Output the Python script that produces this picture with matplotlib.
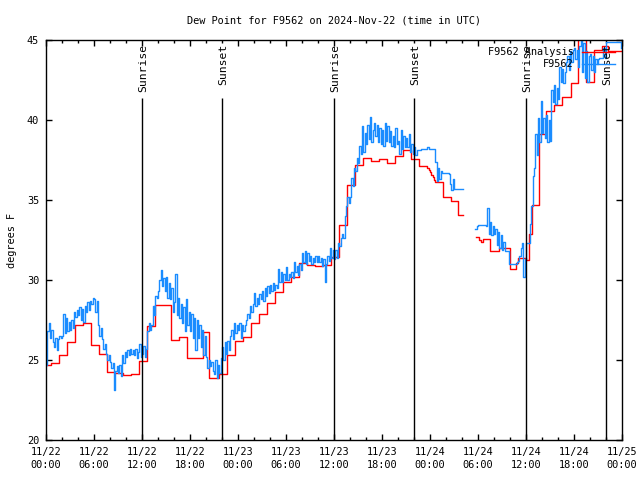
import numpy as np
import matplotlib
matplotlib.use('Agg')
import matplotlib.pyplot as plt
from matplotlib.ticker import MultipleLocator

# time axis is hours since 2024-11-22 00:00 UTC

# hourly analysis (drawn as steps)
analysis_hours = [0.0, 0.67, 1.67, 2.67, 3.67, 4.67, 5.67, 6.67, 7.67, 8.67,
                  9.67, 10.67, 11.67, 12.67, 13.67, 14.67, 15.67, 16.67, 17.67, 18.67,
                  19.67, 20.4, 21.67, 22.67, 23.67, 24.67, 25.67, 26.67, 27.67, 28.67,
                  29.67, 30.67, 31.67, 32.67, 33.67, 34.67, 35.67, 36.67, 37.67, 38.67,
                  39.67, 40.67, 41.67, 42.67, 43.67, 44.67, 45.67, 46.67, 47.67, 47.83,
                  48.0, 48.17, 48.33, 48.5, 48.63, 49.6, 50.6, 51.5, 52.08,
                  53.75, 54.16, 54.4, 54.6, 55.5, 56.67, 56.8, 58.0, 58.75, 59.04,
                  60.0, 60.4, 60.7, 61.6, 62.5, 63.5, 64.5, 65.6, 66.5, 67.5,
                  68.5, 69.5, 70.2, 71.9]
analysis_temp = [24.69, 24.79, 25.31, 26.13, 27.17, 27.29, 25.92, 25.35, 24.23, 24.21,
                 24.06, 24.10, 24.96, 27.12, 28.44, 28.44, 26.25, 26.42, 25.10, 25.10,
                 26.77, 23.85, 24.10, 25.31, 26.20, 26.42, 27.29, 27.86, 28.58, 29.27,
                 29.85, 30.17, 31.04, 30.94, 30.88, 30.94, 31.44, 33.42, 35.94, 37.19,
                 37.60, 37.46, 37.54, 37.29, 37.75, 38.12, 37.54, 37.12, 36.98, 36.85,
                 36.73, 36.58, 36.42, 36.23, 36.15, 35.17, 34.96, 34.06, np.nan,
                 32.67, 32.50, 32.35, 32.54, 31.83, 32.02, 31.98, 30.67, 31.04, 31.35,
                 31.25, 32.90, 34.69, 39.10, 40.56, 40.94, 41.46, 42.29, 45.60, 42.40,
                 44.40, 44.60, 44.30, np.nan]

# station observations, one value every 10 minutes (nan = missing)
obs_temp = [
    24.7, 26.8, 27.3, 26.4, 26.9, 26.1,
    25.8, 26.4, 25.6, 26.3, 26.5, 26.4,
    26.5, 27.9, 26.7, 27.6, 26.8, 27.4,
    26.9, 27.5, 27.0, 28.0, 27.7, 28.1,
    27.8, 28.3, 27.5, 28.2, 27.4, 28.4,
    28.0, 28.6, 28.1, 28.7, 28.5, 28.9,
    28.8, 28.0, 28.7, 27.2, 26.5, 27.0,
    26.3, 25.7, 26.0, 25.4, 25.0, 25.3,
    24.9, 24.5, 24.8, 23.1, 24.3, 24.6,
    24.2, 24.7, 24.0, 25.3, 24.8, 25.5,
    25.2, 25.6, 25.3, 25.7, 25.4, 25.6,
    25.3, 25.7, 25.1, 25.5, 26.0, 25.2,
    25.4, 25.9, 25.2, 25.7, 26.8, 27.3,
    26.9, 27.2, 28.4, 27.8, 29.0, 28.9,
    29.3, 30.0, 30.6, 29.6, 30.1, 29.3,
    30.2, 28.9, 29.8, 28.8, 29.5, 28.0,
    28.6, 30.4, 27.8, 28.9, 27.6, 28.5,
    27.3, 28.3, 26.8, 28.8, 27.2, 28.0,
    26.8, 27.9, 26.4, 27.6, 25.6, 27.5,
    26.4, 27.2, 25.8, 26.9, 25.3, 26.5,
    25.2, 24.5, 25.0, 24.6, 24.9, 24.3,
    24.1, 25.0, 23.9, 24.7, 24.2, 25.1,
    25.8, 25.0, 26.1, 25.4, 26.2, 25.6,
    26.5, 26.9, 26.3, 27.3, 26.7, 27.2,
    26.9, 27.3, 26.4, 27.2, 26.8, 27.2,
    27.5, 27.9, 27.6, 28.4, 28.0, 28.5,
    29.2, 28.4, 28.9, 28.5, 29.1, 28.8,
    29.3, 28.7, 29.5, 29.0, 29.6, 29.2,
    29.7, 29.3, 29.8, 29.4, 29.7, 29.5,
    30.7, 29.9, 30.5, 29.9, 30.4, 30.0,
    30.8, 30.0, 30.4, 30.2, 30.5, 30.1,
    31.1, 30.5, 30.9, 30.3, 31.0, 30.6,
    31.7, 31.1, 31.8, 31.0, 31.7, 31.2,
    31.5, 31.0, 31.4, 31.1, 31.5, 31.1,
    31.5, 31.1, 31.4, 30.9, 31.3, 29.9,
    31.0, 31.5, 31.2, 32.0, 31.4, 31.9,
    31.3, 31.9, 31.4, 32.3, 32.1, 32.6,
    32.9, 32.6, 34.0, 34.6, 35.2, 34.8,
    35.2, 36.4, 35.9, 37.0, 36.8, 37.6,
    37.3, 38.4, 37.9, 39.6, 38.0, 39.2,
    38.5, 39.7, 38.8, 40.2, 38.6, 39.4,
    39.8, 39.0, 39.7, 38.6, 39.5, 38.5,
    39.4, 38.4, 39.8, 38.7, 39.6, 38.6,
    39.3, 38.4, 39.0, 38.3, 39.5, 38.5,
    38.7, 37.9, 39.4, 38.2, 39.0, 38.3,
    38.9, 38.3, 39.1, 38.0, 38.5, 37.9,
    38.3, 37.8, 38.1, 38.1, 38.1, 38.2,
    38.2, 38.2, 38.2, 38.2, 38.3, 38.2,
    38.2, 38.2, 38.2, 38.2, 37.4, 36.2,
    37.0, 36.3, 36.8, 36.7, 36.7, 36.7,
    36.7, 36.7, 36.6, 36.0, 35.6, 36.3,
    35.7, 35.7, 35.7, 35.7, 35.7, 35.7,
    35.7, np.nan, np.nan, np.nan, np.nan, np.nan,
    np.nan, np.nan, np.nan, np.nan, 33.2, 33.4,
    33.45, 33.45, 33.45, 33.45, 33.45, 33.45,
    33.4, 34.5, 32.9, 33.6, 32.8, 33.4,
    32.9, 33.2, 32.2, 33.0, 32.0, 32.8,
    31.9, 32.4, 31.8, 31.8, 31.8, 31.0,
    31.0, 31.0, 31.0, 31.0, 31.0, 31.1,
    31.2, 31.5, 32.0, 32.3, 30.2, 31.3,
    32.3, 32.3, 32.3, 33.5, 34.6, 36.5,
    37.0, 39.1, 37.8, 40.1, 38.6, 41.2,
    39.2, 40.1, 38.9, 40.3, 38.6, 40.0,
    38.7, 41.9, 41.1, 42.2, 41.0, 42.0,
    41.3, 43.3, 42.4, 43.2, 42.3, 43.0,
    43.6, 44.0, 43.1, 44.3, 43.6, 44.4,
    44.5, 43.8, 44.4, 43.3, 44.6, 45.3,
    43.0, 44.8, 42.6, 44.3, 42.4, 44.0,
    44.1, 43.1, 44.0, 43.0, 43.8, 43.5,
    43.8, 43.9, 43.9, 43.9, 44.5, 43.9,
    44.9, 44.9, 44.9, 44.9, 44.9, 44.9,
    44.9, 44.9, 44.9, 44.9, 44.9, 44.5,
]
obs_hours = np.arange(len(obs_temp)) / 6.0

sun_hours = [12.0, 22.0, 36.0, 46.0, 60.0, 70.0]
sun_labels = ['Sunrise', 'Sunset', 'Sunrise', 'Sunset', 'Sunrise', 'Sunset']

tick_hours = list(range(0, 73, 6))
tick_labels = ['11/22\n00:00', '11/22\n06:00', '11/22\n12:00', '11/22\n18:00',
               '11/23\n00:00', '11/23\n06:00', '11/23\n12:00', '11/23\n18:00',
               '11/24\n00:00', '11/24\n06:00', '11/24\n12:00', '11/24\n18:00',
               '11/25\n00:00']

plt.rcParams['font.family'] = ['DejaVu Sans Mono']
plt.rcParams['font.size'] = 7.4

fig = plt.figure(figsize=(6.4, 4.8), dpi=100)
ax = fig.add_axes([46 / 640, 40 / 480, 576 / 640, 400 / 480])

ax.plot(analysis_hours, analysis_temp, drawstyle='steps-post', color='#ff0000',
        lw=1.0, label='F9562 Analysis')
ax.plot(obs_hours, obs_temp, drawstyle='steps-post', color='#1a8cff',
        lw=1.0, label='F9562')

# sunrise / sunset markers
ax.vlines(sun_hours, 20, 41.4, color='black', lw=1.0)
for h, lab in zip(sun_hours, sun_labels):
    ax.text(h + 0.1, 44.75, lab, rotation=90, ha='center', va='top', fontsize=8.2)

ax.set_xlim(0, 72)
ax.set_ylim(20, 45)
ax.set_xticks(tick_hours)
ax.set_xticklabels(tick_labels, linespacing=1.4)
ax.xaxis.set_minor_locator(MultipleLocator(2))
ax.set_yticks(range(20, 46, 5))
ax.tick_params(which='both', direction='in', top=True, right=True, width=1.0)
ax.tick_params(which='major', length=4.5, pad=5)
ax.tick_params(which='minor', length=2.5)
for s in ax.spines.values():
    s.set_linewidth(1.0)

ax.set_ylabel('degrees F', labelpad=7)
ax.set_title('Dew Point for F9562 on 2024-Nov-22 (time in UTC)', fontsize=7.4, pad=12)

ax.legend(loc='upper right', frameon=False, markerfirst=False, handlelength=3.2,
          handletextpad=0.8, borderaxespad=0.5, labelspacing=0.2, borderpad=0.2)

fig.savefig('out.png', dpi=100)
